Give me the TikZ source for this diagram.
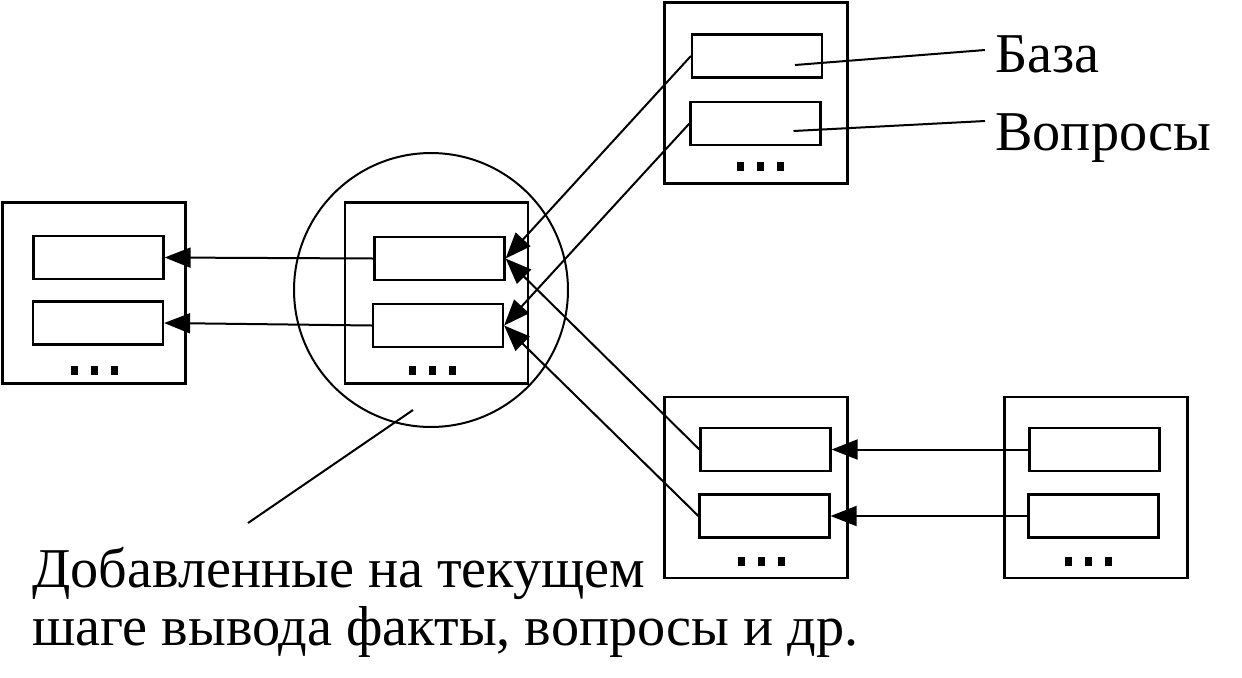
\documentclass[tikz,border=0pt]{standalone}
\usepackage{fontspec}
\setmainfont{Liberation Serif}
\usetikzlibrary{calc,arrows.meta}
\def\tridots(#1,#2){\fill (#1-23.5,#2-4.5) rectangle (#1-16.5,#2+4.5);
	\fill (#1-3.5,#2-4.5) rectangle (#1+3.5,#2+4.5);
	\fill (#1+16.5,#2-4.5) rectangle (#1+23.5,#2+4.5);}

\begin{document}
\begin{tikzpicture}[x=0.02cm, y=-0.02cm,
		frame/.style={draw, line width=0.55mm, minimum width=3.66cm, minimum height=3.62cm},
		slot/.style={draw, line width=0.45mm, minimum width=2.6cm, minimum height=0.86cm},
		link/.style={line width=0.4mm},
		feed/.style={line width=0.4mm, -{Triangle[length=0.52cm, width=0.4cm]}},
		lbl/.style={font=\fontsize{32}{33}\selectfont, inner sep=0pt}]
			%%%%% START %%%%%
			\useasboundingbox (0,0) rectangle (1242,677);
			
			\node[frame] (fL) at (94, 293) {};
			\node[frame] (fC) at (436.5, 293) {};
			\node[frame] (fT) at (756, 93) {};
			\node[frame] (fM) at (756, 487.5) {};
			\node[frame] (fR) at (1096, 487.5) {};
			
			\node[circle, draw, line width=0.4mm, minimum size=5.48cm] (ring) at (431, 290) {};
			
			\node[slot] (L1) at (98.5, 257.5) {};
			\node[slot] (L2) at (98, 323) {};
			\node[slot] (C1) at (439.5, 258.5) {};
			\node[slot] (C2) at (438, 325.5) {};
			\node[slot] (T1) at (757, 56) {};
			\node[slot] (T2) at (755.5, 123.5) {};
			\node[slot] (M1) at (765.5, 449.5) {};
			\node[slot] (M2) at (764.5, 516) {};
			\node[slot] (R1) at (1094.5, 449.5) {};
			\node[slot] (R2) at (1093.5, 516) {};
			
			\tridots(94, 370)
			\tridots(432, 370)
			\tridots(760.5, 166.5)
			\tridots(761, 561)
			\tridots(1088.5, 561)
			
			\draw[feed] (C1.west) -- (L1.east);
			\draw[feed] (C2.west) -- (L2.east);
			\draw[feed] (T1.west) -- (C1.east);
			\draw[feed] (T2.west) -- (C2.east);
			\draw[feed] (M1.west) -- (C1.east);
			\draw[feed] (M2.west) -- (C2.east);
			\draw[feed] (R1.west) -- (M1.east);
			\draw[feed] (R2.west) -- (M2.east);
			
			\node[lbl, anchor=base west] (baza) at (995, 72) {База};
			\node[lbl, anchor=base west] (vopr) at (995, 150) {Вопросы};
			\coordinate (bzIn) at ($(T1.center)+(38, 9)$);
			\coordinate (bzTip) at (985, 50);
			\coordinate (vpIn) at ($(T2.center)+(38, 7.5)$);
			\coordinate (vpTip) at (985, 121);
			\draw[link] (bzIn) -- (bzTip);
			\draw[link] (vpIn) -- (vpTip);
			
			\node[lbl, anchor=base west] (noteA) at (32, 587) {Добавленные на текущем};
			\node[lbl, anchor=base west] (noteB) at (32, 645) {шаге вывода факты, вопросы и др.};
			\coordinate (ringTip) at (413, 410);
			\coordinate (noteTip) at (248, 523);
			\draw[link] (noteTip) -- (ringTip);
			
			%%%%% END %%%%%
\end{tikzpicture}
\end{document}
